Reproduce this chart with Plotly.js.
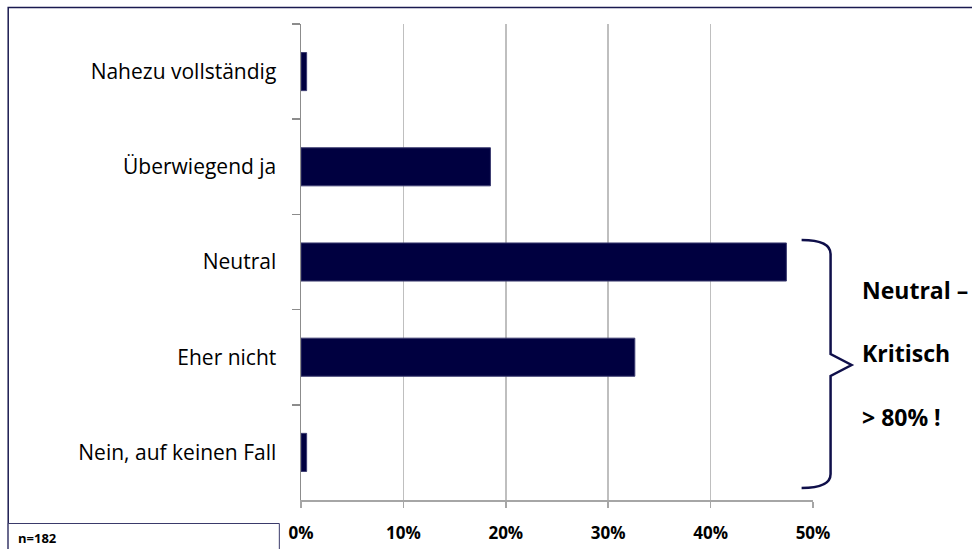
<!DOCTYPE html>
<html>
<head>
<meta charset="utf-8">
<script src="https://cdn.plot.ly/plotly-3.0.1.min.js"></script>
<style>html,body{margin:0;padding:0;background:#fff;}#chart{width:972px;height:549px;}</style>
</head>
<body>
<div id="chart"></div>
<script>
// Data (top to bottom as displayed)
const categories = ["Nahezu vollständig", "Überwiegend ja", "Neutral", "Eher nicht", "Nein, auf keinen Fall"];
const values = [0.55, 18.5, 47.4, 32.6, 0.55];
const xTickVals = [0, 10, 20, 30, 40, 50];
const xTickText = ["0%", "10%", "20%", "30%", "40%", "50%"];
const noteText = "n=182";
const calloutLines = ["Neutral –", "Kritisch", "> 80% !"];

const W = 972, H = 549;
const L = 300.7, R = 813.4, T = 24, B = 500;
const px = x => (x - L) / (R - L);
const py = y => (B - y) / (B - T);

const navy = "#0f0f4a";

// Brace path (pixel coords -> paper)
const bracePts = [
  ["M", 802, 240], ["Q", 831, 240, 831, 254], ["L", 831, 354], ["L", 852, 365],
  ["L", 831, 376], ["L", 831, 474], ["Q", 831, 488, 802, 488]
];
const bracePath = bracePts.map(p => {
  let s = p[0];
  for (let i = 1; i < p.length; i += 2) s += " " + px(p[i]).toFixed(5) + "," + py(p[i + 1]).toFixed(5);
  return s;
}).join(" ");

const data = [{
  type: "bar",
  orientation: "h",
  y: categories,
  x: values,
  marker: {color: "#000040", line: {color: "#3c3c70", width: 1}},
  hoverinfo: "x+y"
}];

const calloutFont = {family: "Open Sans, sans-serif", size: 23, color: "#000", weight: "bold"};

const layout = {
  width: W, height: H,
  margin: {l: L, r: W - R, t: T, b: H - B, pad: 0},
  paper_bgcolor: "#ffffff",
  plot_bgcolor: "#ffffff",
  showlegend: false,
  bargap: 0.6,
  font: {family: "Open Sans, Noto Sans, sans-serif", color: "#000"},
  xaxis: {
    range: [0, 50],
    tickvals: xTickVals,
    ticktext: xTickText,
    showgrid: true,
    gridcolor: "#bfbfbf",
    gridwidth: 1.5,
    zeroline: false,
    showline: true,
    linecolor: "#a6a6a6",
    linewidth: 2,
    ticks: "outside",
    ticklen: 6,
    tickcolor: "#a6a6a6",
    tickwidth: 1.5,
    ticklabelstandoff: 11,
    tickfont: {family: "Open Sans, sans-serif", size: 17, color: "#000", weight: "bold"},
    fixedrange: true
  },
  yaxis: {
    type: "category",
    autorange: "reversed",
    showgrid: false,
    zeroline: false,
    showline: true,
    linecolor: "#8c8c8c",
    linewidth: 1.5,
    ticks: "outside",
    tickson: "boundaries",
    ticklen: 8,
    tickcolor: "#8c8c8c",
    tickwidth: 1.5,
    ticklabelstandoff: 19,
    tickfont: {family: "Open Sans, sans-serif", size: 21, color: "#000"},
    fixedrange: true
  },
  shapes: [
    // outer frame
    {type: "rect", xref: "paper", yref: "paper", x0: px(7.5), x1: px(990), y0: py(7.5), y1: py(570),
     line: {color: "#1a1a50", width: 1.5}, fillcolor: "rgba(0,0,0,0)", layer: "above"},
    // white area behind brace hiding gridline
    {type: "rect", xref: "paper", yref: "paper", x0: px(798), x1: px(856), y0: py(217), y1: py(487),
     line: {width: 0}, fillcolor: "#ffffff", layer: "above"},
    // n box
    {type: "rect", xref: "paper", yref: "paper", x0: px(7.5), x1: px(279), y0: py(523.5), y1: py(560),
     line: {color: "#3a3a6a", width: 1}, fillcolor: "#ffffff", layer: "above"},
    // brace
    {type: "path", xref: "paper", yref: "paper", path: bracePath,
     line: {color: navy, width: 2.5}, layer: "above"}
  ],
  annotations: [
    {xref: "paper", yref: "paper", x: px(15), y: py(538), xanchor: "left", yanchor: "middle",
     text: noteText, showarrow: false, font: {family: "Open Sans, sans-serif", size: 13, color: "#000", weight: "bold"}},
    {xref: "paper", yref: "paper", x: px(860), y: py(290), xanchor: "left", yanchor: "middle",
     text: calloutLines[0], showarrow: false, font: calloutFont},
    {xref: "paper", yref: "paper", x: px(860), y: py(353), xanchor: "left", yanchor: "middle",
     text: calloutLines[1], showarrow: false, font: calloutFont},
    {xref: "paper", yref: "paper", x: px(860), y: py(417), xanchor: "left", yanchor: "middle",
     text: calloutLines[2], showarrow: false, font: calloutFont}
  ]
};

Plotly.newPlot("chart", data, layout, {displayModeBar: false, staticPlot: true});
</script>
</body>
</html>
